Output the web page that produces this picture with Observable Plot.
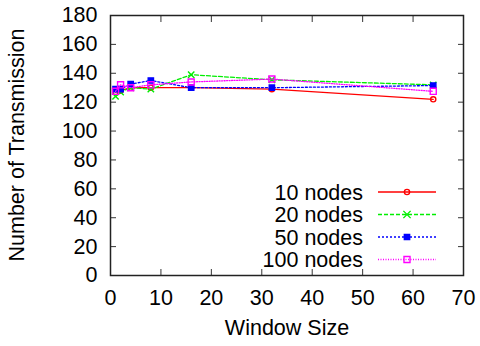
<!DOCTYPE html>
<html><head><meta charset="utf-8">
<script src="https://cdn.jsdelivr.net/npm/d3@7"></script>
<script src="https://cdn.jsdelivr.net/npm/@observablehq/plot@0.6"></script>
<style>body{margin:0;background:#fff}</style>
</head><body><div id="chart"></div>
<script>
const windowSizes = [1, 2, 4, 8, 16, 32, 64];
const nodes10 = [127, 128, 130, 130, 130, 129, 122];
const nodes20 = [124, 127, 130, 129, 139, 135.5, 132];
const nodes50 = [129, 129, 132.5, 135, 130, 130, 131.5];
const nodes100 = [127.5, 132, 130, 132, 134, 136, 127.5];
const seriesNames = ["10 nodes", "20 nodes", "50 nodes", "100 nodes"];
const xTicks = [0, 10, 20, 30, 40, 50, 60, 70];
const yTicks = [0, 20, 40, 60, 80, 100, 120, 140, 160, 180];

const styles = [
  {color: "#ff0000", dash: null, symbol: "circle", fill: "none", r: 2.6},
  {color: "#00ee00", dash: "4,2", symbol: "times", fill: "none", r: 3.0},
  {color: "#0000ff", dash: "2,2", symbol: "square", fill: "#0000ff", r: 3.0},
  {color: "#ff00ff", dash: "1,1.5", symbol: "square", fill: "none", r: 3.4}
];
const allSeries = [nodes10, nodes20, nodes50, nodes100];
const data = allSeries.flatMap((vals, s) => vals.map((v, i) => ({x: windowSizes[i], y: v, s})));

const font = "Liberation Sans, Arial, Helvetica, sans-serif";
const fs = 21.5;
const marks = [];
allSeries.forEach((vals, s) => {
  const st = styles[s];
  const d = data.filter(e => e.s === s);
  marks.push(Plot.line(d, {x: "x", y: "y", stroke: st.color, strokeWidth: 1.3, strokeDasharray: st.dash}));
  marks.push(Plot.dot(d, {x: "x", y: "y", symbol: st.symbol, r: st.r, stroke: st.color, fill: st.fill, strokeWidth: 1.4}));
});

const chart = Plot.plot({
  width: 480, height: 346,
  marginLeft: 110, marginRight: 17, marginTop: 15, marginBottom: 71,
  style: {fontFamily: font, fontSize: fs + "px", color: "#000", background: "#fff"},
  x: {domain: [0, 70]},
  y: {domain: [0, 180]},
  marks: [
    Plot.axisX(xTicks, {anchor: "bottom", tickSize: -6, strokeWidth: 0.8, tickPadding: 20, label: null, fontSize: fs}),
    Plot.axisX(xTicks, {anchor: "top", tickSize: -6, strokeWidth: 0.8, tickFormat: () => "", label: null}),
    Plot.axisY(yTicks, {anchor: "left", tickSize: -6, strokeWidth: 0.8, tickPadding: 19, label: null, fontSize: fs}),
    Plot.axisY(yTicks, {anchor: "right", tickSize: -6, strokeWidth: 0.8, tickFormat: () => "", label: null}),
    ...marks,
    Plot.frame({stroke: "#222", strokeWidth: 1.5})
  ]
});

const svg = d3.select(chart);
svg.append("text").attr("x", 287).attr("y", 335).attr("text-anchor", "middle")
  .attr("font-family", font).attr("font-size", fs).text("Window Size");
svg.append("text").attr("transform", "translate(24,145) rotate(-90)").attr("text-anchor", "middle")
  .attr("font-family", font).attr("font-size", fs).text("Number of Transmission");

const leg = svg.append("g");
seriesNames.forEach((name, s) => {
  const st = styles[s];
  const y = 192 + s * 22.5;
  leg.append("text").attr("x", 363).attr("y", y).attr("dy", "0.35em").attr("text-anchor", "end")
    .attr("font-family", font).attr("font-size", fs).text(name);
  leg.append("line").attr("x1", 378).attr("x2", 436).attr("y1", y).attr("y2", y)
    .attr("stroke", st.color).attr("stroke-width", 1.3).attr("stroke-dasharray", st.dash);
  const sym = d3.symbol(st.symbol === "circle" ? d3.symbolCircle : st.symbol === "times" ? d3.symbolTimes : d3.symbolSquare,
     st.symbol === "times" ? 4 * st.r * st.r : Math.PI * st.r * st.r);
  leg.append("path").attr("d", sym()).attr("transform", `translate(407,${y})`)
    .attr("stroke", st.color).attr("fill", st.fill).attr("stroke-width", 1.4);
});

document.getElementById("chart").appendChild(chart);
</script></body></html>
